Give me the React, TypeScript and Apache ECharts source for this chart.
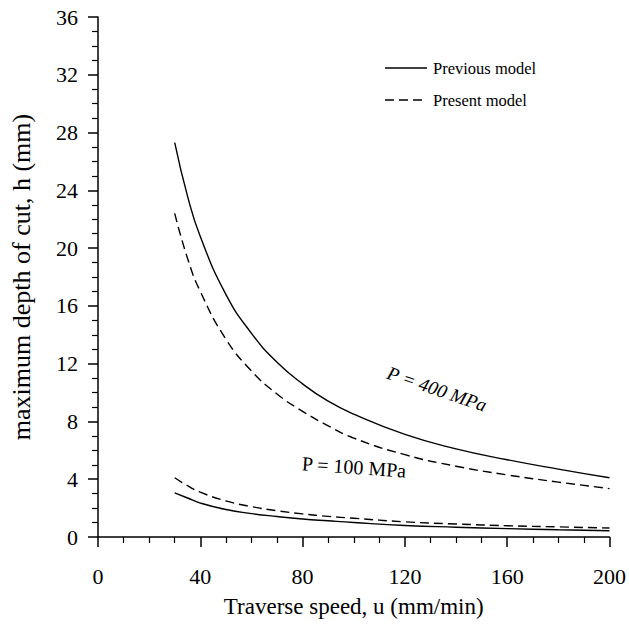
import React, { useEffect, useRef } from "react";
import * as echarts from "echarts";

const speeds = [30, 35, 40, 50, 60, 70, 80, 90, 100, 120, 140, 160, 180, 200];
const previous400 = [27.3, 23.6, 20.8, 16.8, 14.1, 12.1, 10.6, 9.4, 8.5, 7.1, 6.1, 5.35, 4.7, 4.1];
const present400 = [22.4, 19.3, 17.0, 13.7, 11.5, 9.9, 8.7, 7.7, 6.85, 5.7, 4.9, 4.3, 3.8, 3.35];
const previous100 = [3.05, 2.7, 2.35, 1.9, 1.62, 1.42, 1.25, 1.12, 1.0, 0.8, 0.68, 0.58, 0.5, 0.43];
const present100 = [4.1, 3.55, 3.1, 2.5, 2.1, 1.82, 1.6, 1.43, 1.3, 1.05, 0.9, 0.78, 0.7, 0.62];

const legendNames = ["Previous model", "Present model"];
const curveLabels = ["P = 400 MPa", "P = 100 MPa"];
const xName = "Traverse speed, u (mm/min)";
const yName = "maximum depth of cut, h (mm)";

const FONT = "Liberation Serif";

function pairs(vals: number[]) {
  return speeds.map((u, i) => [u, vals[i]]);
}

export default function App() {
  const ref = useRef<HTMLDivElement>(null);
  useEffect(() => {
    if (!ref.current) return;
    const chart = echarts.init(ref.current, undefined, { renderer: "svg" });
    const solid = { color: "#000", width: 1.4, type: "solid" as const };
    const dashed = { color: "#000", width: 1.4, type: [9, 5] as any };
    const mk = (name: string, vals: number[], ls: any) => ({
      type: "line",
      name,
      data: pairs(vals),
      symbol: "none",
      smooth: 0.5,
      lineStyle: ls,
      itemStyle: { color: "#000" },
      silent: true,
    });
    const legendX = 385;
    const legendY = [68, 100];
    chart.setOption({
      animation: false,
      backgroundColor: "#fff",
      grid: { left: 96, right: 18, top: 17, bottom: 87 },
      xAxis: {
        type: "value",
        min: 0,
        max: 200,
        interval: 40,
        name: xName,
        nameLocation: "middle",
        nameGap: 58,
        nameTextStyle: { fontFamily: FONT, fontSize: 23, color: "#000" },
        axisLine: { show: true, onZero: false, lineStyle: { color: "#000", width: 1.5 } },
        axisTick: { show: true, inside: false, length: 10, lineStyle: { color: "#000", width: 1.5 } },
        minorTick: { show: true, splitNumber: 4, length: 6, lineStyle: { color: "#000", width: 1.2 } },
        axisLabel: { fontFamily: FONT, fontSize: 22, color: "#000", margin: 28 },
        splitLine: { show: false },
      },
      yAxis: {
        type: "value",
        min: 0,
        max: 36,
        interval: 4,
        name: yName,
        nameLocation: "middle",
        nameGap: 64,
        nameTextStyle: { fontFamily: FONT, fontSize: 26, color: "#000" },
        axisLine: { show: true, onZero: false, lineStyle: { color: "#000", width: 1.5 } },
        axisTick: { show: true, inside: false, length: 10, lineStyle: { color: "#000", width: 1.5 } },
        minorTick: { show: true, splitNumber: 4, length: 6, lineStyle: { color: "#000", width: 1.2 } },
        axisLabel: { fontFamily: FONT, fontSize: 22, color: "#000", margin: 20 },
        splitLine: { show: false },
      },
      series: [
        mk(legendNames[0], previous400, solid),
        mk(legendNames[1], present400, dashed),
        mk(legendNames[0], previous100, solid),
        mk(legendNames[1], present100, dashed),
      ],
      graphic: [
        {
          type: "line",
          shape: { x1: legendX, y1: legendY[0], x2: legendX + 42, y2: legendY[0] },
          style: { stroke: "#000", lineWidth: 1.4 },
        },
        {
          type: "text",
          x: legendX + 48,
          y: legendY[0],
          style: { text: legendNames[0], fontFamily: FONT, fontSize: 16.5, fill: "#000", verticalAlign: "middle" },
        },
        {
          type: "line",
          shape: { x1: legendX, y1: legendY[1], x2: legendX + 42, y2: legendY[1] },
          style: { stroke: "#000", lineWidth: 1.4, lineDash: [9, 5] },
        },
        {
          type: "text",
          x: legendX + 48,
          y: legendY[1],
          style: { text: legendNames[1], fontFamily: FONT, fontSize: 16.5, fill: "#000", verticalAlign: "middle" },
        },
        {
          type: "text",
          x: 437,
          y: 389,
          rotation: -0.33,
          style: {
            text: curveLabels[0],
            fontFamily: FONT,
            fontSize: 19,
            fontStyle: "italic",
            fill: "#000",
            align: "center",
            verticalAlign: "middle",
          },
        },
        {
          type: "text",
          x: 354,
          y: 467,
          rotation: -0.07,
          style: {
            text: curveLabels[1],
            fontFamily: FONT,
            fontSize: 20,
            fill: "#000",
            align: "center",
            verticalAlign: "middle",
          },
        },
      ],
    });
    return () => chart.dispose();
  }, []);
  return (
    <div
      ref={ref}
      style={{ position: "fixed", left: 0, top: 0, width: 629, height: 624, background: "#fff" }}
    />
  );
}
